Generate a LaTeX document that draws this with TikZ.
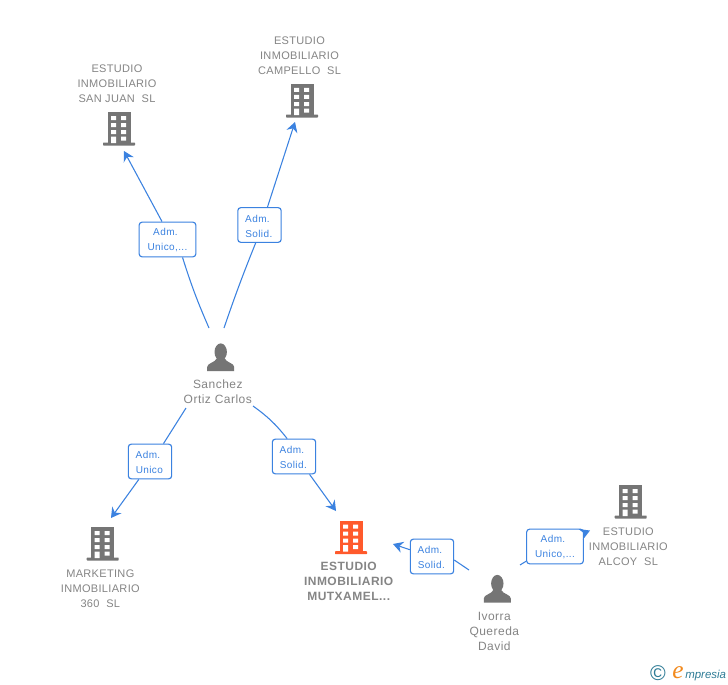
\documentclass[tikz,border=0pt]{standalone}
\usepackage{fontspec}
\usetikzlibrary{arrows.meta}
\setmainfont{Liberation Sans}
\newfontfamily\namefont[LetterSpace=4]{Liberation Sans}
\newfontfamily\compfont[LetterSpace=3]{Liberation Sans}
\newfontfamily\boldcomp[LetterSpace=4]{Liberation Sans Bold}
\newfontfamily\labfont[LetterSpace=4]{Liberation Sans}
\newfontfamily\logofont{Liberation Serif Italic}
\newfontfamily\logosans{Liberation Sans Italic}
\definecolor{txtgray}{HTML}{858585}
\definecolor{icongray}{HTML}{757575}
\definecolor{accent}{HTML}{FF5A2C}
\definecolor{linkblue}{HTML}{3B82E0}
\definecolor{logoteal}{HTML}{2F7C96}
\definecolor{logoorange}{HTML}{F28A1E}
\tikzset{
  x=0.75pt,y=-0.75pt,
  conn/.style={draw=linkblue,line width=0.8pt},
  arr/.style={conn,-{Stealth[length=7.5pt,width=8.5pt,inset=2.5pt]}},
  labbox/.style={draw=linkblue,line width=0.85pt,fill=white,rounded corners=2.2pt,inner sep=0pt,
    minimum height=26pt,align=center,text=linkblue,
    font=\labfont\fontsize{7.5pt}{11.25pt}\selectfont},
  lab2/.style={labbox,minimum width=32.5pt},
  lab3/.style={labbox,minimum width=42.5pt},
  comp/.style={text=txtgray,align=center,inner sep=0pt,font=\compfont\fontsize{8.25pt}{11.25pt}\selectfont},
  compb/.style={text=txtgray,align=center,inner sep=0pt,font=\boldcomp\fontsize{9pt}{11.25pt}\selectfont},
  pers/.style={text=txtgray,align=center,inner sep=0pt,font=\namefont\fontsize{9pt}{11.25pt}\selectfont},
  pics/bldg/.style={code={
    \fill[#1] (-11.5,0) rectangle (11.5,31);
    \fill[#1,rounded corners=0.5pt] (-16,30.5) rectangle (16,33.5);
    \fill[white] (-8,4) rectangle (-3,8) (2,4) rectangle (7,8)
      (-8,11) rectangle (-3,15) (2,11) rectangle (7,15)
      (-8,18) rectangle (-3,22) (2,18) rectangle (7,22)
      (-8,24.5) rectangle (-3,31) (2,24.5) rectangle (7,28.5);
  }},
  pics/person/.style={code={
    \fill[icongray] (0,9) ellipse [x radius=6.2,y radius=8.6];
    \fill[icongray] (-13.5,28) -- (-13.5,24) .. controls (-13.5,20) and (-6,20) .. (-3.5,15)
      -- (3.5,15) .. controls (6,20) and (13.5,20) .. (13.5,24) -- (13.5,28) -- cycle;
  }}
}
\newcommand{\admA}{\rule{0pt}{6.9pt}Adm.\hspace*{3pt}}
\begin{document}
\begin{tikzpicture}
\useasboundingbox[fill=white] (0,0) rectangle (728,685);

% icons
\pic at (119,112) {bldg=icongray};
\pic at (302,84) {bldg=icongray};
\pic at (102.7,527) {bldg=icongray};
\pic at (351,520.7) {bldg=accent};
\pic at (630.7,485) {bldg=icongray};
\pic at (220.7,343) {person};
\pic at (497.3,574.5) {person};

% texts
\node[comp] (sanjuan) at (117,84) {ESTUDIO\\INMOBILIARIO\\SAN JUAN\ \ SL};
\node[comp] (campello) at (299.5,56) {ESTUDIO\\INMOBILIARIO\\CAMPELLO\ \ SL};
\node[comp] (marketing) at (100.3,589) {MARKETING\\INMOBILIARIO\\360\ \ SL};
\node[compb] (mutxamel) at (348.7,581) {ESTUDIO\\INMOBILIARIO\\MUTXAMEL...};
\node[comp] (alcoy) at (628.3,547) {ESTUDIO\\INMOBILIARIO\\ALCOY\ \ SL};
\node[pers] (sanchez) at (217.8,392) {Sanchez\\Ortiz Carlos};
\node[pers] (ivorra) at (494.3,631) {Ivorra\\Quereda\\David};

% connector ends
\coordinate (sanchezNW) at (209,328);
\coordinate (sanchezNE) at (224,328);
\coordinate (sanchezSW) at (186,408);
\coordinate (sanchezSE) at (253,406);
\coordinate (ivorraNW) at (469,570);
\coordinate (ivorraNE) at (520,565);
\coordinate (tipSanJuan) at (124,151);
\coordinate (tipCampello) at (295,122);
\coordinate (tipMarketing) at (111,518);
\coordinate (tipMutxA) at (336,511);
\coordinate (tipMutxB) at (393,544);
\coordinate (tipAlcoy) at (590,530.5);

% edge labels
\node[lab3] (labA) at (167.5,239.5) {\admA\\Unico,...};
\node[lab2] (labB) at (259.5,225) {\admA\\Solid.\hspace*{1pt}};
\node[lab2] (labC) at (150,461.5) {\admA\\Unico\hspace*{1pt}};
\node[lab2] (labD) at (294,456.5) {\admA\\Solid.\hspace*{1pt}};
\node[lab2] (labE) at (432,556.5) {\admA\\Solid.\hspace*{1pt}};
\node[lab3] (labF) at (555,546.5) {\admA\\Unico,...};

% connectors
\draw[conn] (sanchezNW) to[bend left=3] (labA.-50.4);
\draw[arr] (labA.107.4) -- (tipSanJuan);
\draw[conn] (sanchezNE) to[bend left=1.5] (labB.258.4);
\draw[arr] (labB.66) -- (tipCampello);
\draw[conn] (sanchezSW) -- (labC.53.4);
\draw[arr] (labC.-122.2) -- (tipMarketing);
\draw[conn] (sanchezSE) to[bend left=8] (labD.111.8);
\draw[arr] (labD.-49.4) -- (tipMutxA);
\draw[conn] (ivorraNW) -- (labE.-9);
\draw[arr] (labE.163.5) -- (tipMutxB);
\draw[conn] (ivorraNE) -- (labF.207.4);
\draw[arr] (labF.25.7) -- (tipAlcoy);

% logo
\node[text=logoteal,inner sep=0pt,font=\fontsize{16pt}{16pt}\selectfont] (logoC) at (658,673) {©};
\node[text=logoorange,inner sep=0pt,font=\logofont\fontsize{19pt}{19pt}\selectfont] (logoE) at (678,673) {e};
\node[text=logoteal,inner sep=0pt,anchor=base west,font=\logosans\fontsize{8.6pt}{10pt}\selectfont] (logoT) at (685,678) {mpresia};
\end{tikzpicture}
\end{document}
